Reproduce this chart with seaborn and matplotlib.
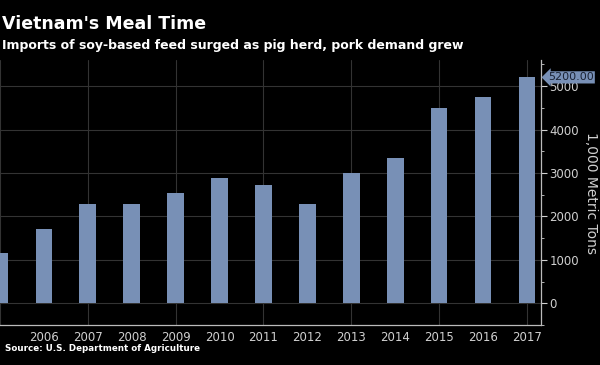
import matplotlib
matplotlib.use("Agg")
import matplotlib.pyplot as plt
import seaborn as sns
import pandas as pd
from matplotlib.ticker import MultipleLocator

# data (1,000 metric tons)
years = [2005, 2006, 2007, 2008, 2009, 2010, 2011, 2012, 2013, 2014, 2015, 2016, 2017]
imports = [1155, 1715, 2290, 2290, 2530, 2885, 2725, 2275, 2995, 3350, 4500, 4755, 5200]
tick_years = [2006, 2007, 2008, 2009, 2010, 2011, 2012, 2013, 2014, 2015, 2016, 2017]
y_ticks = [0, 1000, 2000, 3000, 4000, 5000]

title = "Vietnam's Meal Time"
subtitle = "Imports of soy-based feed surged as pig herd, pork demand grew"
source = "Source: U.S. Department of Agriculture"
y_label = "1,000 Metric Tons"

bar_color = "#7890b6"
grid_color = "#333333"
text_color = "#d0d0d0"

df = pd.DataFrame({"Year": [str(y) for y in years], "Imports": imports})

sns.set_style("dark")
plt.rcParams["font.family"] = ["DejaVu Sans"]

fig = plt.figure(figsize=(6, 3.65), dpi=100, facecolor="black")
ax = fig.add_axes([0.0, 0.1096, 0.9017, 0.726])
ax.set_facecolor("black")

sns.barplot(data=df, x="Year", y="Imports", color=bar_color, width=0.38,
            saturation=1, edgecolor="none", linewidth=0, ax=ax, zorder=3)

# vertical grid lines at every other year (odd years)
for i, y in enumerate(years):
    if y % 2 == 1:
        ax.axvline(i, color=grid_color, lw=0.8, zorder=1)

ax.set_xlim(0, len(years) - 1 + 0.32)
ax.set_ylim(-500, 5600)

ax.set_xticks([years.index(y) for y in tick_years])
ax.set_xticklabels([str(y) for y in tick_years])
ax.tick_params(axis="x", length=0, colors=text_color, labelsize=8.5, pad=4)

ax.yaxis.tick_right()
ax.yaxis.set_label_position("right")
ax.set_yticks(y_ticks)
ax.yaxis.set_minor_locator(MultipleLocator(500))
ax.tick_params(axis="y", which="major", length=4, color=text_color,
               colors=text_color, labelsize=8.5, pad=2)
ax.tick_params(axis="y", which="minor", length=2.5, color=text_color)
ax.yaxis.grid(True, color=grid_color, lw=0.8, zorder=1)
ax.xaxis.grid(False)

ax.set_xlabel("")
ax.set_ylabel(y_label, color=text_color, fontsize=10, rotation=270, labelpad=14)

for side in ["top", "left"]:
    ax.spines[side].set_visible(False)
for side in ["right", "bottom"]:
    ax.spines[side].set_visible(True)
    ax.spines[side].set_color("#bbbbbb")
    ax.spines[side].set_linewidth(0.9)

# last value tag on the axis
ax.annotate(f"{imports[-1]:.2f}", xy=(1.0, imports[-1]),
            xycoords=("axes fraction", "data"), xytext=(5, 0),
            textcoords="offset points", va="center", ha="left",
            fontsize=8, color="#1a2233",
            bbox=dict(boxstyle="larrow,pad=0.1", fc=bar_color, ec="none"))

fig.text(0.003, 0.935, title, color="white", fontsize=12.5, fontweight="bold",
         va="center", ha="left")
fig.text(0.003, 0.875, subtitle, color="white", fontsize=9, fontweight="bold",
         va="center", ha="left")
fig.text(0.008, 0.045, source, color="white", fontsize=6.3, fontweight="bold",
         va="center", ha="left")

fig.savefig("out.png", dpi=100, facecolor="black")
